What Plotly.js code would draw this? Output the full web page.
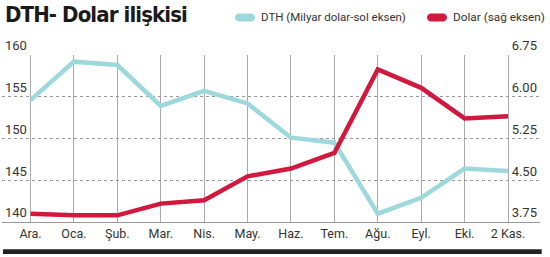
<!DOCTYPE html>
<html><head><meta charset="utf-8">
<script src="https://cdn.plot.ly/plotly-3.0.1.min.js"></script>
<style>body{margin:0;background:#fff}#c{width:550px;height:257px}.gtitle{letter-spacing:-0.9px}</style>
</head><body><div id="c"></div>
<script>
const categories = ["Ara.","Oca.","Şub.","Mar.","Nis.","May.","Haz.","Tem.","Ağu.","Eyl.","Eki.","2 Kas."];
const dthValues = [154.6,159.2,158.8,153.9,155.7,154.2,150.1,149.5,141.0,142.9,146.4,146.1];
const dolarValues = [3.90,3.87,3.87,4.08,4.14,4.57,4.71,4.99,6.49,6.16,5.61,5.65];
const leftTicks = [140,145,150,155,160];
const rightTicks = [3.75,4.50,5.25,6.00,6.75];
const seriesNames = ["DTH (Milyar dolar-sol eksen)","Dolar (sağ eksen)"];
const colors = ["#9dd8dd","#d2183c"];

const font = "Roboto, Liberation Sans, sans-serif";
const titleFont = "DejaVu Sans Condensed, Liberation Sans, sans-serif";
const L=2, R=10, T=55, B=35, W=550, H=257;
const pw = W-L-R, ph = H-T-B;
const px = v => (v-L)/pw;
const py = v => (H-B-v)/ph;
const pill = "M -6,-4 L 6,-4 C 8.2,-4 10,-2.2 10,0 C 10,2.2 8.2,4 6,4 L -6,4 C -8.2,4 -10,2.2 -10,0 C -10,-2.2 -8.2,-4 -6,-4 Z";

const traces = [
  {x: categories, y: dthValues, name: seriesNames[0], type: "scatter", mode: "lines",
   line: {color: colors[0], width: 4.5}, yaxis: "y"},
  {x: categories, y: dolarValues, name: seriesNames[1], type: "scatter", mode: "lines",
   line: {color: colors[1], width: 4.5}, yaxis: "y2"}
];

const layout = {
  width: W, height: H,
  margin: {l: L, r: R, t: T, b: B},
  paper_bgcolor: "#fff", plot_bgcolor: "#fff",
  showlegend: false,
  font: {family: font, size: 12, color: "#333"},
  title: {text: "<b>DTH- Dolar ilişkisi</b>", font: {family: titleFont, size: 22, color: "#1a1a1a"},
          xref: "container", x: 5/W, xanchor: "left", yref: "container", y: 1-7/H, yanchor: "top"},
  xaxis: {type: "category", categoryarray: categories, range: [-0.657, 11.737],
          showgrid: true, gridcolor: "#aaa", gridwidth: 1,
          showline: true, linecolor: "#999", linewidth: 1,
          ticks: "", tickfont: {family: font, size: 12.5, color: "#333"}, fixedrange: true},
  yaxis: {range: [140,160], tickvals: leftTicks, ticktext: leftTicks.map(String),
          ticklabelposition: "inside top", ticklabeloverflow: "allow",
          showgrid: true, gridcolor: "#999", griddash: "dot",
          gridwidth: 1, zeroline: false, showline: false, ticks: "",
          tickfont: {family: font, size: 13, color: "#333"}},
  yaxis2: {range: [3.75,6.75], overlaying: "y", side: "right", tickvals: rightTicks,
           ticktext: rightTicks.map(v => v.toFixed(2)),
           ticklabelposition: "inside top", ticklabeloverflow: "allow",
           showgrid: false, zeroline: false, showline: false,
           ticks: "", tickfont: {family: font, size: 13, color: "#333"}},
  shapes: [
    {type: "path", xref: "paper", yref: "paper", xsizemode: "pixel", ysizemode: "pixel",
     xanchor: px(245), yanchor: py(17.5), path: pill, fillcolor: colors[0], line: {width: 0}},
    {type: "path", xref: "paper", yref: "paper", xsizemode: "pixel", ysizemode: "pixel",
     xanchor: px(437), yanchor: py(17.5), path: pill, fillcolor: colors[1], line: {width: 0}},
    {type: "rect", xref: "paper", yref: "paper", x0: px(3), x1: px(541.7), y0: py(249.3), y1: py(254),
     fillcolor: "#222", line: {width: 0}}
  ],
  annotations: [
    {text: seriesNames[0], xref: "paper", yref: "paper", x: px(259), y: py(17.5),
     xanchor: "left", yanchor: "middle", showarrow: false, font: {family: font, size: 11.5, color: "#333"}},
    {text: seriesNames[1], xref: "paper", yref: "paper", x: px(451), y: py(17.5),
     xanchor: "left", yanchor: "middle", showarrow: false, font: {family: font, size: 11.8, color: "#333"}}
  ]
};
Plotly.newPlot("c", traces, layout, {staticPlot: true, displayModeBar: false});
</script></body></html>
